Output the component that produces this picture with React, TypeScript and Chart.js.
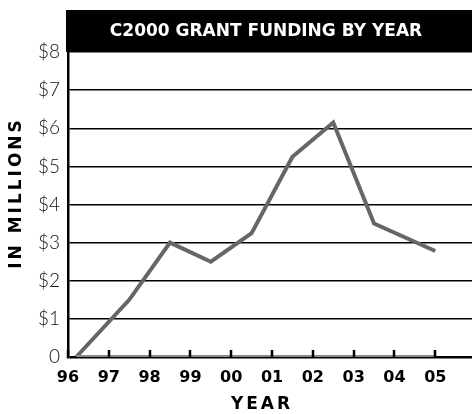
import React, { useEffect, useRef } from "react";
import { Chart, registerables } from "chart.js";

Chart.register(...registerables);

const chartTitle = "C2000 GRANT FUNDING BY YEAR";
const xTitle = "YEAR";
const yTitle = "IN MILLIONS";
const yearLabels = ["96", "97", "98", "99", "00", "01", "02", "03", "04", "05"];
const yTickLabels = ["0", "$1", "$2", "$3", "$4", "$5", "$6", "$7", "$8"];
const fundingX = [0.2, 1.5, 2.5, 3.5, 4.5, 5.5, 6.5, 7.5, 9.0];
const fundingY = [0, 1.5, 3.0, 2.5, 3.25, 5.25, 6.15, 3.5, 2.78];
const baselineX = [0.2, 9];
const baselineY = [0, 0];

const decorPlugin = {
  id: "decor",
  beforeDraw(chart: any) {
    const { ctx, chartArea } = chart;
    ctx.save();
    ctx.fillStyle = "#000";
    ctx.fillRect(chartArea.left - 2, 10, chart.width - chartArea.left + 2, chartArea.top - 10);
    ctx.fillStyle = "#fff";
    ctx.font = "bold 17px 'DejaVu Sans'";
    ctx.textAlign = "center";
    ctx.textBaseline = "middle";
    ctx.fillText(chartTitle, 266, (10 + chartArea.top) / 2 + 1);
    ctx.restore();
  },
  afterDraw(chart: any) {
    const { ctx, chartArea } = chart;
    const xs = chart.scales.x;
    ctx.save();
    ctx.strokeStyle = "#000";
    ctx.lineWidth = 2.5;
    yearLabels.forEach((_, i) => {
      const px = Math.round(xs.getPixelForValue(i));
      ctx.beginPath();
      ctx.moveTo(px, chartArea.bottom + 1);
      ctx.lineTo(px, chartArea.bottom - 7);
      ctx.stroke();
    });
    ctx.fillStyle = "#000";
    ctx.font = "bold 17px 'DejaVu Sans'";
    (ctx as any).letterSpacing = "3px";
    ctx.textAlign = "center";
    ctx.textBaseline = "middle";
    ctx.fillText(xTitle, 262, 405);
    ctx.translate(17, 193);
    ctx.rotate(-Math.PI / 2);
    ctx.fillText(yTitle, 0, 0);
    ctx.restore();
  },
};

export default function App() {
  const ref = useRef<HTMLCanvasElement | null>(null);
  useEffect(() => {
    document.body.style.margin = "0";
    const canvas = ref.current;
    if (!canvas) return;
    const chart = new Chart(canvas, {
      type: "line",
      data: {
        datasets: [
          {
            label: "Baseline",
            data: baselineX.map((x, i) => ({ x, y: baselineY[i] })),
            borderColor: "#8a8a8a",
            borderWidth: 4,
            pointRadius: 0,
            fill: false,
          },
          {
            label: "Funding",
            data: fundingX.map((x, i) => ({ x, y: fundingY[i] })),
            borderColor: "#666666",
            borderWidth: 4,
            pointRadius: 0,
            borderJoinStyle: "miter",
            fill: false,
            tension: 0,
          },
        ],
      },
      options: {
        responsive: false,
        animation: false,
        devicePixelRatio: 1,
        layout: { padding: { top: 52, right: 0, left: 0, bottom: 0 } },
        plugins: { legend: { display: false }, tooltip: { enabled: false }, title: { display: false } },
        scales: {
          x: {
            type: "linear",
            min: 0,
            max: 9.9,
            afterBuildTicks: (s: any) => {
              s.ticks = yearLabels.map((_, i) => ({ value: i }));
            },
            afterFit: (s: any) => {
              s.height = 57;
            },
            grid: { display: false, drawTicks: false },
            border: { display: false },
            ticks: {
              autoSkip: false,
              maxRotation: 0,
              padding: 11,
              color: "#000",
              font: { family: "'DejaVu Sans'", weight: "bold", size: 16 },
              callback: (v: any) => yearLabels[Math.round(Number(v))] ?? "",
            },
          },
          y: {
            min: 0,
            max: 8,
            afterFit: (s: any) => {
              s.width = 68;
            },
            grid: { color: "#000", lineWidth: (c: any) => (c.tick && c.tick.value === 0 ? 2.5 : 1.5), drawTicks: false },
            border: { display: true, color: "#000", width: 2.5 },
            ticks: {
              stepSize: 1,
              padding: 8,
              color: "#111",
              font: { family: "Lato", weight: 300, size: 19 },
              callback: (v: any) => yTickLabels[Math.round(Number(v))] ?? "",
            },
          },
        },
      },
      plugins: [decorPlugin],
    });
    return () => chart.destroy();
  }, []);
  return (
    <div style={{ width: 472, height: 414 }}>
      <canvas ref={ref} width={472} height={414} />
    </div>
  );
}
